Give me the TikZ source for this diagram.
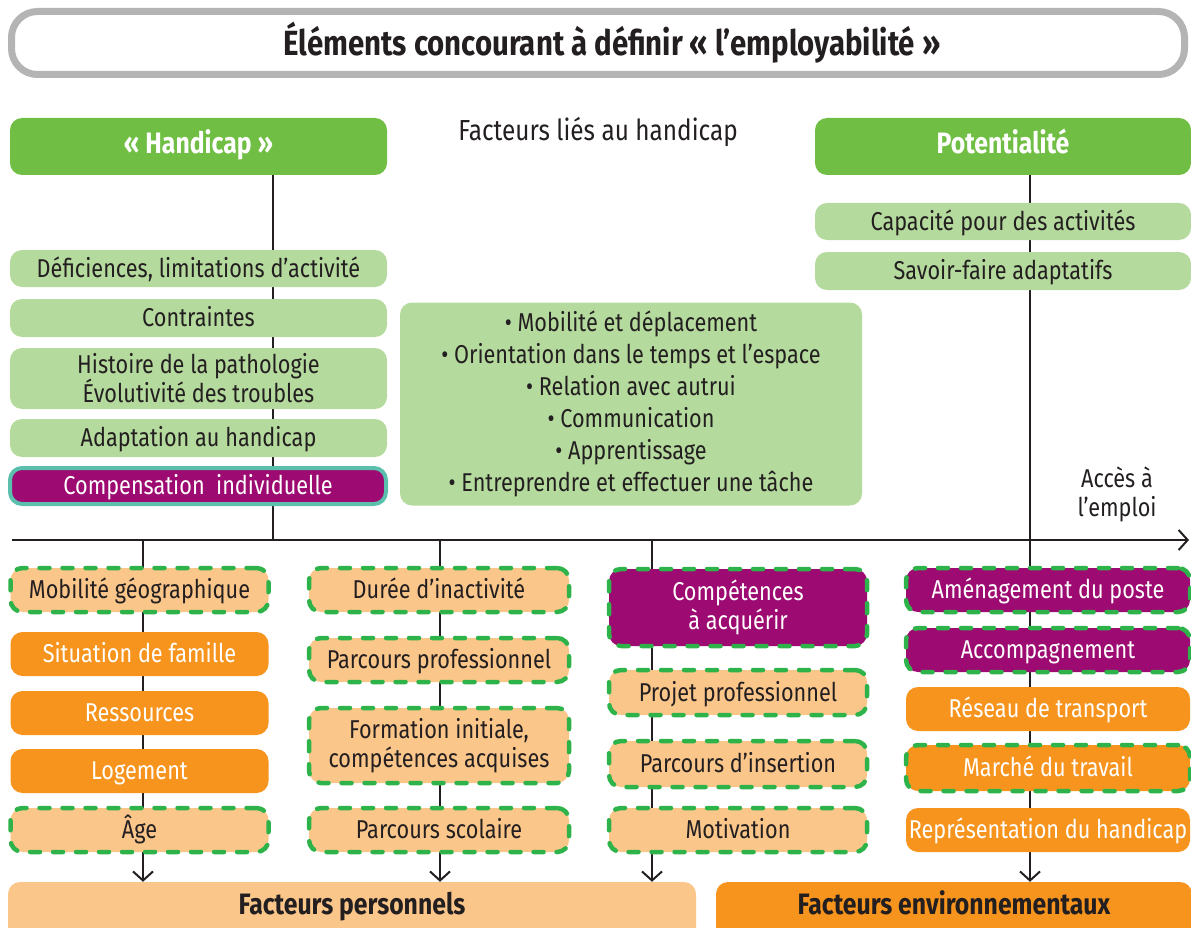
\documentclass[tikz,border=0pt]{standalone}
\usepackage{fontspec}
\setmainfont{Fira Sans}[FakeStretch=0.84]
\usetikzlibrary{arrows.meta,backgrounds,calc}
\definecolor{cgreen}{HTML}{70BF44}
\definecolor{clgreen}{HTML}{B5DA9D}
\definecolor{cpurple}{HTML}{9D0A71}
\definecolor{cteal}{HTML}{5BBFAD}
\definecolor{corange}{HTML}{F7941D}
\definecolor{clorange}{HTML}{FBC68A}
\definecolor{cdash}{HTML}{2DB34A}
\definecolor{cgray}{HTML}{B4B4B4}
\definecolor{ctext}{HTML}{231F20}
\tikzset{
  core/.style={rounded corners=12pt, align=center, inner sep=0pt, font=\fontsize{25.8}{29}\selectfont, text=ctext},
  base/.style={core, text height=20.5pt, text depth=3pt},
  head/.style={base, fill=cgreen, text=white, font=\bfseries\fontsize{29.5}{34}\selectfont, text height=21pt, text depth=6pt},
  lg/.style={base, fill=clgreen},
  lgm/.style={core, fill=clgreen},
  org/.style={base, fill=corange, text=white},
  lor/.style={base, fill=clorange},
  lorm/.style={core, fill=clorange},
  dsh/.style={draw=cdash, line width=4.5pt, line cap=round, dash pattern=on 10pt off 13pt},
  pur/.style={base, fill=cpurple, text=white},
  purm/.style={core, fill=cpurple, text=white},
  foot/.style={base, font=\bfseries\fontsize{29.5}{34}\selectfont, text=ctext, text height=21pt, text depth=6pt},
  conn/.style={line width=2pt, draw=ctext},
  arr/.style={conn, -{Straight Barb[length=9pt,width=20pt,line width=2pt]}},
}
\begin{document}
\begin{tikzpicture}[x=1pt,y=-1pt]
\useasboundingbox (0,0) rectangle (1191,928);
\clip (0,0) rectangle (1191,928);
% title
\node[draw=cgray, line width=7pt, rounded corners=26pt, minimum width=1173pt, minimum height=63pt, inner sep=0pt] (title) at (598,43) {};
\node[font=\bfseries\fontsize{35}{40}\selectfont, text=ctext, inner sep=0pt, text height=25pt, text depth=8pt] (titletxt) at (612,47) {Éléments concourant à définir «~l’employabilité~»};
% headers
\node[head, minimum width=377pt, minimum height=57pt] (hand) at (198.5,146.5) {«~Handicap~»};
\node[head, minimum width=376pt, minimum height=57pt] (pot) at (1003,146.5) {Potentialité};
\node[core, font=\fontsize{29}{34}\selectfont, text height=21pt, text depth=6pt] (liees) at (598,133) {Facteurs liés au handicap};
% left handicap boxes
\node[lg, minimum width=377pt, minimum height=37pt] (def) at (198.5,268.5) {Déficiences, limitations d'activité};
\node[lg, minimum width=377pt, minimum height=38pt] (contr) at (198.5,318) {Contraintes};
\node[lgm, minimum width=377pt, minimum height=61pt] (hist) at (198.5,378.5) {Histoire de la pathologie\\Évolutivité des troubles};
\node[lg, minimum width=377pt, minimum height=38pt] (adapt) at (198.5,438) {Adaptation au handicap};
\node[pur, draw=cteal, line width=4pt, minimum width=376pt, minimum height=36pt] (comp) at (198,486) {Compensation\ \ individuelle};
% right potential boxes
\node[lg, minimum width=376pt, minimum height=37pt] (cap) at (1003,221.5) {Capacité pour des activités};
\node[lg, minimum width=376pt, minimum height=38pt] (sav) at (1003,271) {Savoir-faire adaptatifs};
% middle
\node[lgm, minimum width=462pt, minimum height=203pt, font=\fontsize{25.8}{32}\selectfont] (mid) at (631,404) {• Mobilité et déplacement\\• Orientation dans le temps et l’espace\\• Relation avec autrui\\• Communication\\• Apprentissage\\• Entreprendre et effectuer une tâche};
\node[core] (acces) at (1117,494) {Accès à\\l’emploi};
% axis coordinates
\coordinate (axL) at (12,540);
\coordinate (axR) at (1189,540);
\coordinate (t0) at (273,540);
\coordinate (t1) at (143,540);
\coordinate (t2) at (440,540);
\coordinate (t3) at (652,540);
\coordinate (t4) at (1030,540);
% column 1
\node[lor, dsh, minimum width=258pt, minimum height=44pt] (mob) at (139.5,590) {Mobilité géographique};
\node[org, minimum width=258pt, minimum height=44pt] (sit) at (139.5,654) {Situation de famille};
\node[org, minimum width=258pt, minimum height=44pt] (ress) at (139.5,713) {Ressources};
\node[org, minimum width=258pt, minimum height=44pt] (loge) at (139.5,771) {Logement};
\node[lor, dsh, minimum width=258pt, minimum height=44pt] (age) at (139.5,830) {Âge};
% column 2
\node[lor, dsh, minimum width=260pt, minimum height=44pt] (dur) at (439,590) {Durée d’inactivité};
\node[lor, dsh, minimum width=260pt, minimum height=44pt] (ppro) at (439,660) {Parcours professionnel};
\node[lorm, dsh, minimum width=260pt, minimum height=75pt] (form) at (439,745.5) {Formation initiale,\\compétences acquises};
\node[lor, dsh, minimum width=260pt, minimum height=44pt] (psco) at (439,830) {Parcours scolaire};
% column 3
\node[purm, dsh, minimum width=258pt, minimum height=77pt] (compa) at (738,607.5) {Compétences\\à acquérir};
\node[lor, dsh, minimum width=258pt, minimum height=45pt] (proj) at (738,692.5) {Projet professionnel};
\node[lor, dsh, minimum width=258pt, minimum height=46pt] (pins) at (738,764) {Parcours d'insertion};
\node[lor, dsh, minimum width=258pt, minimum height=44pt] (motiv) at (738,830) {Motivation};
% column 4
\node[pur, dsh, minimum width=284pt, minimum height=44pt] (amen) at (1048,590) {Aménagement du poste};
\node[pur, dsh, minimum width=284pt, minimum height=44pt] (accomp) at (1048,650) {Accompagnement};
\node[org, minimum width=284pt, minimum height=44pt] (reseau) at (1048,709) {Réseau de transport};
\node[org, dsh, minimum width=284pt, minimum height=46pt] (marche) at (1048,768) {Marché du travail};
\node[org, minimum width=284pt, minimum height=44pt] (repr) at (1048,830) {Représentation du handicap};
% footers
\node[core, fill=clorange, minimum width=688pt, minimum height=80pt] (pers) at (352,922) {};
\node[core, fill=corange, minimum width=476pt, minimum height=80pt] (env) at (954,922) {};
\node[foot] (perst) at (pers.center |- 0,907) {Facteurs personnels};
\node[foot] (envt) at (env.center |- 0,907) {Facteurs environnementaux};
% connectors
\begin{scope}[on background layer]
\draw[conn] (t0 |- hand.south) -- (t0);
\draw[arr] (t4 |- pot.south) -- (t4 |- env.north);
\draw[arr] (axL) -- (axR);
\draw[arr] (t1) -- (t1 |- pers.north);
\draw[arr] (t2) -- (t2 |- pers.north);
\draw[arr] (t3) -- (t3 |- pers.north);
\end{scope}
\end{tikzpicture}
\end{document}
